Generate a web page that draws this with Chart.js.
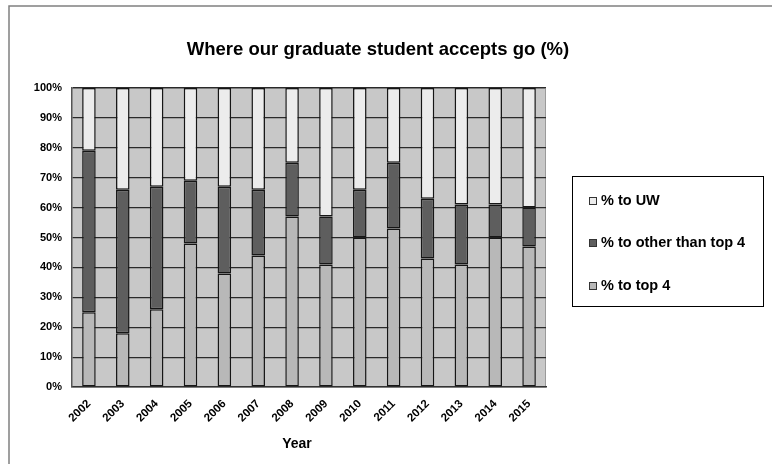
<!DOCTYPE html>
<html><head><meta charset="utf-8">
<script src="https://cdn.jsdelivr.net/npm/chart.js@4"></script>
<style>html,body{margin:0;padding:0;background:#fff}#wrap{width:772px;height:464px;position:relative}</style>
</head><body><div id="wrap"><canvas id="c" width="772" height="464"></canvas></div>
<script>
const chartTitle = 'Where our graduate student accepts go (%)';
const xAxisTitle = 'Year';
const years = ['2002','2003','2004','2005','2006','2007','2008','2009','2010','2011','2012','2013','2014','2015'];
const seriesNames = ['% to top 4', '% to other than top 4', '% to UW'];
const top4 = [25, 18, 26, 48, 38, 44, 57, 41, 50, 53, 43, 41, 50, 47];
const otherThanTop4 = [54, 48, 41, 21, 29, 22, 18, 16, 16, 22, 20, 20, 11, 13];
const toUW = [21, 34, 33, 31, 33, 34, 25, 43, 34, 25, 37, 39, 39, 40];
const yTickSuffix = '%';

const FONT = "'Liberation Sans', Arial, sans-serif";
const colors = ['#b8b8b8', '#5e5e5e', '#ececec'];

const decor = {
  id: 'decor',
  beforeDraw(chart) {
    const ctx = chart.ctx, a = chart.chartArea;
    ctx.save();
    ctx.fillStyle = '#c8c8c8';
    ctx.fillRect(a.left, a.top, a.right - a.left, a.bottom - a.top);
    ctx.strokeStyle = '#9a9a9a';
    ctx.lineWidth = 1;
    ctx.beginPath();
    ctx.moveTo(a.left, a.top + 0.5); ctx.lineTo(a.right - 0.5, a.top + 0.5); ctx.lineTo(a.right - 0.5, a.bottom);
    ctx.stroke();
    ctx.strokeStyle = '#808080';
    ctx.lineWidth = 1.5;
    ctx.beginPath();
    ctx.moveTo(9, 464); ctx.lineTo(9, 6); ctx.lineTo(772, 6);
    ctx.stroke();
    ctx.restore();
  },
  afterDraw(chart) {
    const ctx = chart.ctx;
    ctx.save();
    ctx.fillStyle = '#000';
    ctx.font = 'bold 18.5px ' + FONT;
    ctx.textAlign = 'center';
    ctx.textBaseline = 'middle';
    ctx.fillText(chartTitle, 378, 50);
    ctx.font = 'bold 14px ' + FONT;
    ctx.fillText(xAxisTitle, 297, 444);
    const bx = 572, by = 176, bw = 191, bh = 130;
    ctx.fillStyle = '#fff';
    ctx.fillRect(bx, by, bw, bh);
    ctx.strokeStyle = '#000';
    ctx.lineWidth = 1;
    ctx.strokeRect(bx + 0.5, by + 0.5, bw, bh);
    const ds = chart.data.datasets.slice().reverse();
    const ys = [201, 243, 286];
    ctx.font = 'bold 14.5px ' + FONT;
    ctx.textAlign = 'left';
    ds.forEach((d, i) => {
      ctx.fillStyle = d.backgroundColor;
      ctx.fillRect(589, ys[i] - 4, 8, 8);
      ctx.strokeStyle = '#333';
      ctx.strokeRect(589.5, ys[i] - 3.5, 7, 7);
      ctx.fillStyle = '#000';
      ctx.fillText(d.label, 601, ys[i]);
    });
    ctx.restore();
  }
};

new Chart(document.getElementById('c'), {
  type: 'bar',
  data: {
    labels: years,
    datasets: [
      { label: seriesNames[0], data: top4, backgroundColor: colors[0] },
      { label: seriesNames[1], data: otherThanTop4, backgroundColor: colors[1] },
      { label: seriesNames[2], data: toUW, backgroundColor: colors[2] }
    ].map(d => Object.assign(d, { borderColor: '#161616', borderWidth: 1.5, borderSkipped: false, categoryPercentage: 1, barPercentage: 0.4 }))
  },
  options: {
    responsive: false,
    animation: false,
    devicePixelRatio: 1,
    layout: { padding: { left: 8, right: 226, top: 88, bottom: 0 } },
    plugins: { legend: { display: false }, title: { display: false }, tooltip: { enabled: false } },
    scales: {
      x: {
        stacked: true,
        afterFit: s => { s.height = 77; },
        grid: { display: false, drawTicks: false },
        border: { display: true, color: '#333', width: 1.5 },
        ticks: { autoSkip: false, maxRotation: 45, minRotation: 45, padding: 10, color: '#000', font: { family: FONT, size: 11.5, weight: 'bold' } },
        title: { display: false }
      },
      y: {
        stacked: true,
        min: 0, max: 100,
        afterFit: s => { s.width = 64; },
        grid: { color: '#2a2a2a', lineWidth: 1.2, drawTicks: false },
        border: { display: true, color: '#555', width: 1.5 },
        ticks: { stepSize: 10, padding: 10, color: '#000', font: { family: FONT, size: 11, weight: 'bold' }, callback: v => v + yTickSuffix }
      }
    }
  },
  plugins: [decor]
});
</script></body></html>
